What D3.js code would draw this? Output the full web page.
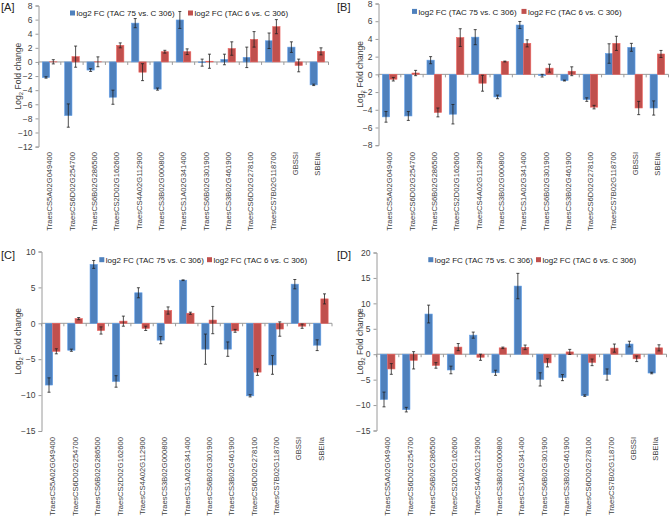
<!DOCTYPE html>
<html><head><meta charset="utf-8">
<script src="https://cdn.jsdelivr.net/npm/d3@7"></script>
<style>
html,body{margin:0;padding:0;background:#fff;}
svg{display:block;font-family:"Liberation Sans",Arial,sans-serif;}
</style></head>
<body>
<svg id="chart" width="669" height="519"></svg>
<script>
const categories = ["TraesCS5A02G049400","TraesCS6D02G254700","TraesCS6B02G286500","TraesCS2D02G162600","TraesCS4A02G112900","TraesCS3B02G000800","TraesCS1A02G341400","TraesCS6B02G301900","TraesCS3B02G461900","TraesCS6D02G278100","TraesCS7B02G118700","GBSSI","SBEIIa"];
const seriesNames = ["log2 FC (TAC 75 vs. C 306)","log2 FC (TAC 6 vs. C 306)"];

const aBlue    = [-2.2, -7.6, -1.15, -5.0, 5.5, -3.85, 5.95, -0.1, 0.35, 0.65, 3.0, 2.1, -3.25];
const aBlueErr = [0.1, 1.65, 0.2, 1.0, 0.65, 0.15, 1.2, 0.5, 0.75, 1.45, 1.1, 0.75, 0.1];
const aRed     = [0.02, 0.75, 0.02, 2.35, -1.45, 1.45, 1.45, 0.1, 1.9, 3.2, 5.0, -0.5, 1.5];
const aRedErr  = [0.3, 1.5, 0.7, 0.35, 1.2, 0.2, 0.4, 1.0, 0.95, 1.1, 1.0, 0.9, 0.5];

const bBlue    = [-4.8, -4.7, 1.6, -4.5, 4.2, -2.55, 5.57, -0.15, -0.7, -2.85, 2.35, 3.05, -3.8];
const bBlueErr = [0.6, 0.5, 0.4, 1.1, 0.85, 0.2, 0.4, 0.15, 0.05, 0.2, 1.1, 0.45, 0.8];
const bRed     = [-0.55, 0.15, -4.3, 4.15, -1.0, 1.45, 3.5, 0.7, 0.35, -3.7, 3.5, -3.8, 2.3];
const bRedErr  = [0.2, 0.3, 0.5, 1.0, 0.9, 0.05, 0.4, 0.45, 0.5, 0.2, 0.8, 0.75, 0.4];

const cBlue    = [-8.6, -3.75, 8.2, -8.1, 4.25, -2.35, 6.0, -3.6, -3.6, -10.1, -5.8, 5.45, -3.05];
const cBlueErr = [1.0, 0.15, 0.55, 0.8, 0.7, 0.5, 0.05, 2.1, 1.0, 0.15, 1.3, 0.65, 0.75];
const cRed     = [-3.9, 0.65, -1.0, 0.3, -0.7, 1.78, 1.4, 0.45, -1.05, -6.8, -0.8, -0.4, 3.4];
const cRedErr  = [0.35, 0.15, 0.5, 0.7, 0.3, 0.5, 0.15, 1.9, 0.2, 0.45, 1.0, 0.3, 0.7];

const dBlue    = [-8.9, -10.9, 7.9, -3.1, 3.75, -3.65, 13.4, -4.95, -4.6, -8.15, -4.0, 2.0, -3.7];
const dBlueErr = [1.45, 0.45, 1.75, 0.75, 0.6, 0.5, 2.5, 1.3, 0.6, 0.15, 1.1, 0.55, 0.15];
const dRed     = [-2.9, -1.2, -2.2, 1.4, -0.6, 1.25, 1.35, -1.7, 0.45, -1.6, 1.2, -0.9, 1.25];
const dRedErr  = [1.05, 1.7, 0.55, 0.7, 0.6, 0.15, 0.45, 0.8, 0.5, 0.65, 0.8, 0.55, 0.6];

const aTicks = [-12,-10,-8,-6,-4,-2,0,2,4,6,8];
const bTicks = [-8,-6,-4,-2,0,2,4,6,8];
const cTicks = [-15,-10,-5,0,5,10];
const dTicks = [-15,-10,-5,0,5,10,15,20];

const colors = ["#4F81BD","#C0504D"];

const panels = [
  {label:"[A]", blue:aBlue, blueErr:aBlueErr, red:aRed, redErr:aRedErr, ticks:aTicks,
   x0:38.5, x1:328.5, yTop:5.5, yBot:146.6, labX:1, labY:11, titleX:18, legX:[70,188], legY:13.3, catY:152},
  {label:"[B]", blue:bBlue, blueErr:bBlueErr, red:bRed, redErr:bRedErr, ticks:bTicks,
   x0:378.5, x1:668.5, yTop:3.5, yBot:145.2, labX:337, labY:11, titleX:360, legX:[412,521.5], legY:11.7, catY:152},
  {label:"[C]", blue:cBlue, blueErr:cBlueErr, red:cRed, redErr:cRedErr, ticks:cTicks,
   x0:41.5, x1:332, yTop:251.5, yBot:431, labX:1, labY:259, titleX:18, legX:[99.3,207], legY:260, catY:437},
  {label:"[D]", blue:dBlue, blueErr:dBlueErr, red:dRed, redErr:dRedErr, ticks:dTicks,
   x0:376.5, x1:666.5, yTop:252.5, yBot:430.5, labX:337, labY:259, titleX:360, legX:[428.3,536], legY:260, catY:437}
];

const svg = d3.select("#chart");
const axisColor = "#9a9a9a";
const textColor = "#404040";

panels.forEach(p => {
  const g = svg.append("g");
  const ext = d3.extent(p.ticks);
  const y = d3.scaleLinear().domain(ext).range([p.yBot, p.yTop]);
  const x = d3.scaleBand().domain(categories).range([p.x0, p.x1]).paddingInner(0.345).paddingOuter(0.1725);
  const xs = d3.scaleBand().domain([0,1]).range([0, x.bandwidth()]);

  // y axis
  const yAxis = d3.axisLeft(y).tickValues(p.ticks).tickSize(3).tickPadding(3).tickFormat(d3.format("d"));
  const ya = g.append("g").attr("transform", `translate(${p.x0},0)`).call(yAxis);
  ya.select(".domain").attr("stroke", axisColor);
  ya.selectAll(".tick line").attr("stroke", axisColor);
  ya.selectAll(".tick text").attr("fill", textColor).style("font-size","8.5px").style("font-family","Liberation Sans, Arial, sans-serif");

  // zero line with category boundary ticks
  const y0 = y(0);
  g.append("line").attr("x1", p.x0).attr("x2", p.x1).attr("y1", y0).attr("y2", y0).attr("stroke", axisColor).attr("stroke-width",1);
  const bounds = d3.range(categories.length + 1).map(i => p.x0 + i * x.step());
  g.selectAll(".bt").data(bounds).join("line")
    .attr("x1", d => d).attr("x2", d => d).attr("y1", y0).attr("y2", y0 + 3)
    .attr("stroke", axisColor);

  // bars
  const series = [
    {vals:p.blue, errs:p.blueErr, s:0},
    {vals:p.red, errs:p.redErr, s:1}
  ];
  series.forEach(se => {
    const data = categories.map((c,i) => ({c, v:se.vals[i], e:se.errs[i]}));
    g.selectAll(null).data(data).join("rect")
      .attr("x", d => x(d.c) + xs(se.s))
      .attr("width", xs.bandwidth())
      .attr("y", d => Math.min(y(d.v), y0))
      .attr("height", d => Math.abs(y(d.v) - y0))
      .attr("fill", colors[se.s])
      .attr("stroke", d3.color(colors[se.s]).brighter(0.6))
      .attr("stroke-width", 0.6);
    const cx = d => x(d.c) + xs(se.s) + xs.bandwidth()/2;
    g.selectAll(null).data(data).join("line")
      .attr("x1", cx).attr("x2", cx)
      .attr("y1", d => y(d.v + d.e)).attr("y2", d => y(d.v - d.e))
      .attr("stroke", "#222").attr("stroke-width", 0.8);
    [1,-1].forEach(sg => {
      g.selectAll(null).data(data).join("line")
        .attr("x1", d => cx(d) - 1.5).attr("x2", d => cx(d) + 1.5)
        .attr("y1", d => y(d.v + sg*d.e)).attr("y2", d => y(d.v + sg*d.e))
        .attr("stroke", "#222").attr("stroke-width", 0.8);
    });
  });

  // category labels
  g.selectAll(null).data(categories).join("text")
    .attr("transform", d => `translate(${x(d) + x.bandwidth()/2 + 2.8},${p.catY}) rotate(-90)`)
    .attr("text-anchor", "end")
    .attr("fill", textColor)
    .style("font-size", "7.6px")
    .text(d => d);

  // y title
  const t = g.append("text")
    .attr("transform", `translate(${p.titleX + 3},${(p.yTop + p.yBot)/2}) rotate(-90)`)
    .attr("text-anchor", "middle")
    .attr("fill", textColor)
    .style("font-size", "8.5px");
  t.append("tspan").text("Log");
  t.append("tspan").text("2").attr("dy", 2).style("font-size","6px");
  t.append("tspan").text(" Fold change").attr("dy", -2);

  // panel label
  g.append("text").attr("x", p.labX).attr("y", p.labY).attr("fill", "#222")
    .style("font-size", "11px").text(p.label);

  // legend
  seriesNames.forEach((n, i) => {
    g.append("rect").attr("x", p.legX[i]).attr("y", p.legY - 2.8).attr("width", 5).attr("height", 5).attr("fill", colors[i]);
    g.append("text").attr("x", p.legX[i] + 6.5).attr("y", p.legY + 2.9)
      .attr("fill", "#222").style("font-size", "8px").text(n);
  });
});
</script>
</body></html>
